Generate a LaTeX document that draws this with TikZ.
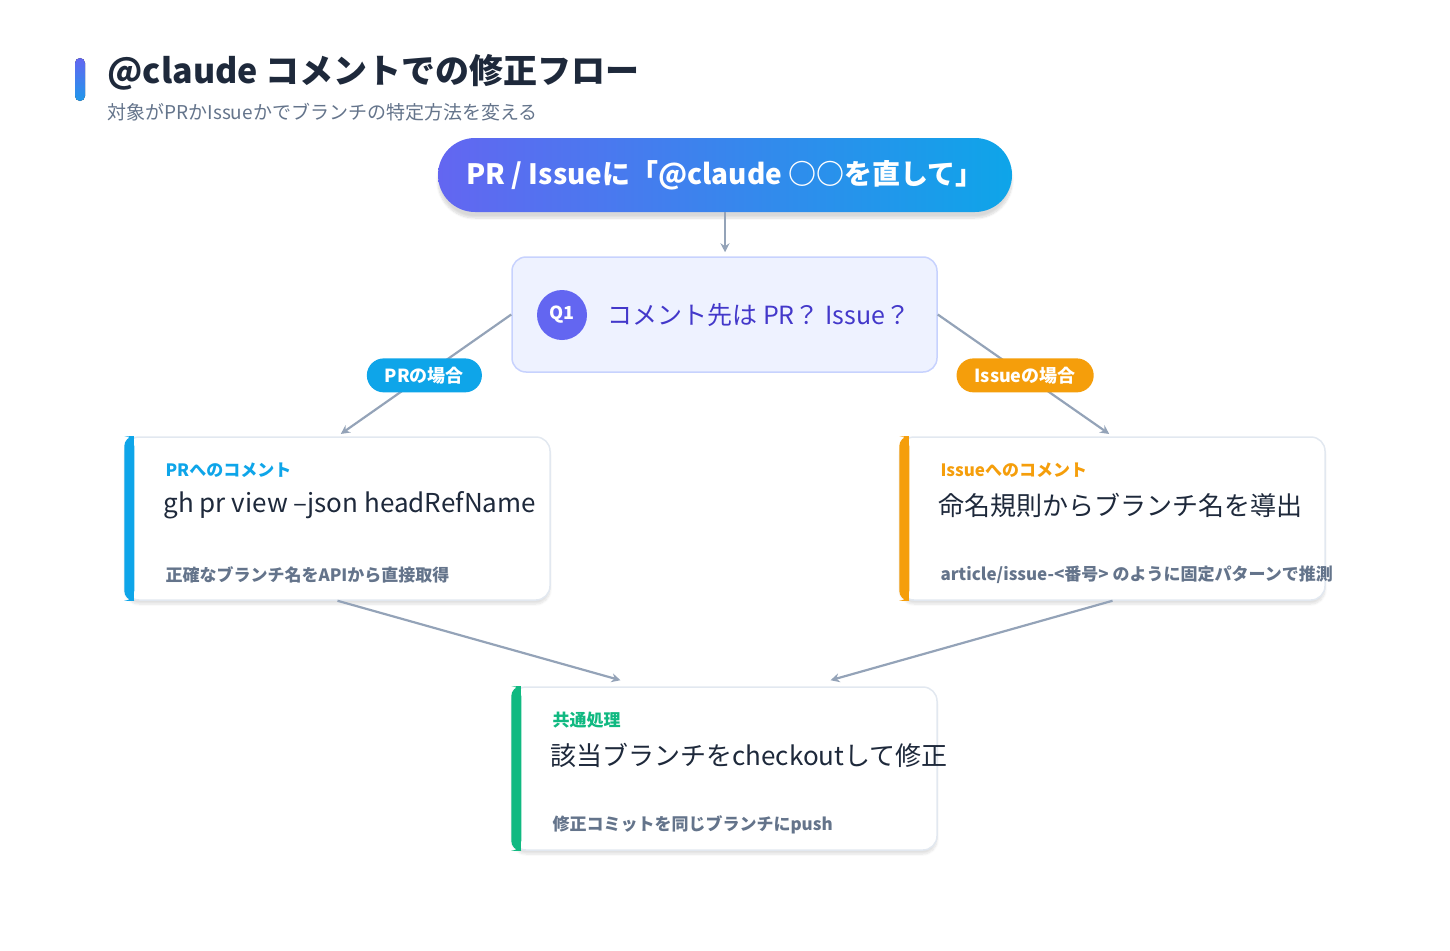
\documentclass[tikz,border=0pt]{standalone}
\usepackage{fontspec}
\setmainfont{Noto Sans CJK JP}
\usetikzlibrary{calc,shadows.blur,arrows.meta}
\definecolor{ind}{HTML}{6366F1}
\definecolor{sky}{HTML}{0EA5E9}
\definecolor{amb}{HTML}{F59E0B}
\definecolor{emr}{HTML}{10B981}
\definecolor{slt}{HTML}{94A3B8}
\definecolor{gry}{HTML}{64748B}
\definecolor{drk}{HTML}{1E293B}
\definecolor{bdr}{HTML}{E2E8F0}
\definecolor{qfill}{HTML}{EEF2FF}
\definecolor{qbdr}{HTML}{C7D2FE}
\definecolor{qtxt}{HTML}{4338CA}
\newcommand{\fs}[1]{\fontsize{#1}{#1}\selectfont}
\tikzset{
  conn/.style={draw=slt,line width=2.2pt,-{Stealth[length=9pt,width=9pt]}},
  card/.style={draw=bdr,line width=1.5pt,fill=white,rounded corners=14pt,minimum width=425pt,minimum height=163pt,blur shadow={shadow blur steps=8,shadow xshift=0pt,shadow yshift=-4pt,shadow opacity=12}},
  pill/.style={rounded corners=17pt,text=white,font=\fs{18}\bfseries,inner xsep=18pt,minimum height=34pt},
  small/.style={anchor=west,font=\fs{17}\bfseries},
  big/.style={anchor=west,font=\fs{26},text=drk},
}
\begin{document}
\begin{tikzpicture}[x=1pt,y=-1pt]
\useasboundingbox (0,0) rectangle (1450,950);
% title
\fill[top color=ind,bottom color=sky!80!ind,rounded corners=5pt] (75,58) rectangle (85,101);
\node[anchor=west,font=\fs{34}\bfseries,text=drk] (title) at (104,72) {@claude コメントでの修正フロー};
\node[anchor=west,font=\fs{19},text=gry] (sub) at (104,112) {対象がPRかIssueかでブランチの特定方法を変える};
% top pill
\node[minimum width=574pt,minimum height=74pt,rounded corners=37pt,left color=ind,right color=sky,text=white,font=\fs{28}\bfseries,blur shadow={shadow blur steps=10,shadow xshift=0pt,shadow yshift=-6pt,shadow opacity=15}] (top) at (725,175) {PR / Issueに「@claude ○○を直して」};
% Q1
\node[draw=qbdr,fill=qfill,line width=1.5pt,rounded corners=14pt,minimum width=425pt,minimum height=115pt] (Q) at (724.5,314.5) {};
\node[circle,fill=ind,minimum size=50pt,text=white,font=\fs{18}\bfseries,inner sep=0pt] (q1) at (562,315) {Q1};
\node[anchor=west,text=qtxt,font=\fs{25}] (qt) at (604,315) {コメント先は PR？ Issue？};
% cards
\node[card] (L) at (337.5,518.5) {};
\fill[sky,rounded corners=10pt] (L.north west) rectangle ($(L.south west)+(10,0)$);
\fill[sky] ($(L.north west)+(5,0)$) rectangle ($(L.south west)+(10,0)$);
\node[small,text=sky] (l1) at (162,470) {PRへのコメント};
\node[big] (l2) at (160,505) {gh pr view --json headRefName};
\node[small,text=gry] (l3) at (162,575) {正確なブランチ名をAPIから直接取得};
\node[card] (R) at (1112.5,518.5) {};
\fill[amb,rounded corners=10pt] (R.north west) rectangle ($(R.south west)+(10,0)$);
\fill[amb] ($(R.north west)+(5,0)$) rectangle ($(R.south west)+(10,0)$);
\node[small,text=amb] (r1) at (937,470) {Issueへのコメント};
\node[big] (r2) at (935,505) {命名規則からブランチ名を導出};
\node[small,text=gry] (r3) at (937,575) {article/issue-<番号> のように固定パターンで推測};
\node[card] (B) at (724.5,768.5) {};
\fill[emr,rounded corners=10pt] (B.north west) rectangle ($(B.south west)+(10,0)$);
\fill[emr] ($(B.north west)+(5,0)$) rectangle ($(B.south west)+(10,0)$);
\node[small,text=emr] (b1) at (549,720) {共通処理};
\node[big] (b2) at (547,755) {該当ブランチをcheckoutして修正};
\node[small,text=gry] (b3) at (549,825) {修正コミットを同じブランチにpush};
% connectors
\draw[conn] (top.south) -- ($(Q.north)+(0.5,-4)$);
\draw[conn,shorten >=4pt] (Q.west) -- (L.north) node[midway,pill,fill=sky] (pl) {PRの場合};
\draw[conn,shorten >=4pt] (Q.east) -- (R.north) node[midway,pill,fill=amb] (pr) {Issueの場合};
\draw[conn] (L.south) -- ($(B.north)+(-104,-6)$);
\draw[conn] (R.south) -- ($(B.north)+(106,-6)$);
\end{tikzpicture}
\end{document}
